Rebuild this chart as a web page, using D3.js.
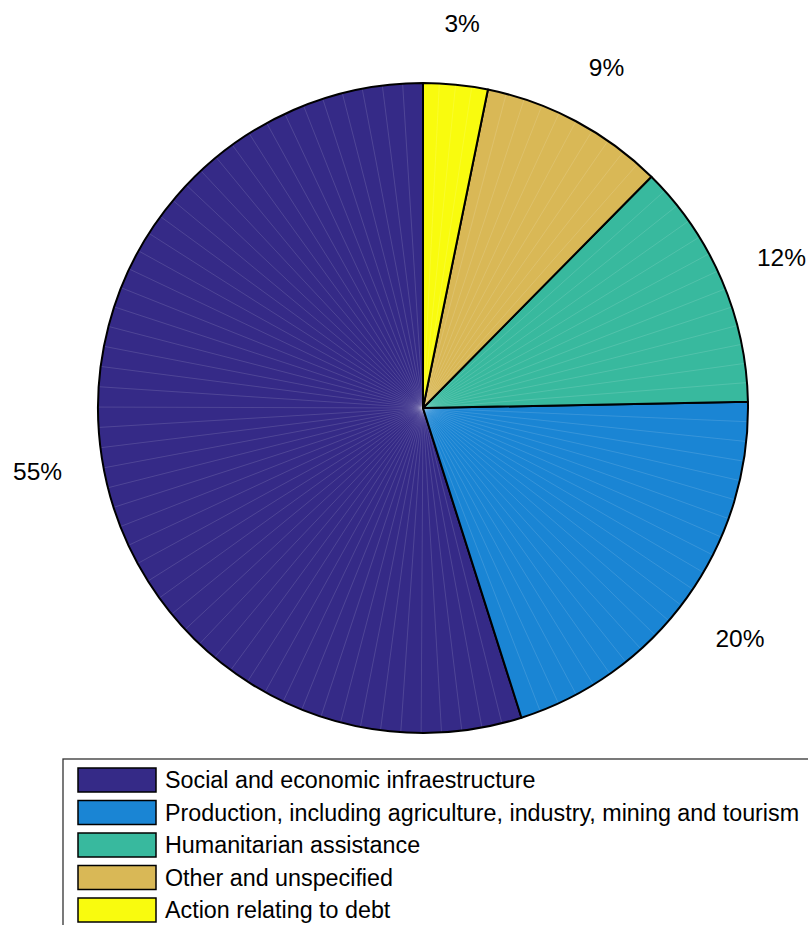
<!DOCTYPE html>
<html>
<head>
<meta charset="utf-8">
<script src="https://cdn.jsdelivr.net/npm/d3@7"></script>
<style>
  html, body { margin: 0; padding: 0; background: #fff; }
  svg { display: block; font-family: "Liberation Sans", Arial, sans-serif; }
</style>
</head>
<body>
<svg id="chart"></svg>
<script>
const categories = [
  'Social and economic infraestructure',
  'Production, including agriculture, industry, mining and tourism',
  'Humanitarian assistance',
  'Other and unspecified',
  'Action relating to debt'
]
const shares = [54.9, 20.4, 12.3, 9.2, 3.2]
const labels = ['55%', '20%', '12%', '9%', '3%']
const colors = ['#352a87', '#1a85d4', '#38b99e', '#d9b856', '#f9fb0e']

const width = 808
const height = 925
const cx = 423
const cy = 408
const radius = 325

const svg = d3.select('#chart')
  .attr('width', width)
  .attr('height', height)

// pie goes counterclockwise from 12 o'clock, like the original
const pie = d3.pie().sort(null).value(d => d).startAngle(0).endAngle(-2 * Math.PI)
const arcs = pie(shares)
const total = d3.sum(shares)

const arc = d3.arc().innerRadius(0).outerRadius(radius)

const g = svg.append('g').attr('transform', `translate(${cx},${cy})`)

const slice = g.selectAll('.slice')
  .data(arcs)
  .enter().append('g')
  .attr('class', 'slice')

slice.append('path')
  .attr('d', arc)
  .style('fill', (d, i) => colors[i])

// faint seams of the polygon fill
slice.each(function (d) {
  const n = Math.max(1, Math.ceil(100 * d.value / total))
  const a = d3.scaleLinear().domain([0, n]).range([d.startAngle, d.endAngle])
  d3.select(this).selectAll('.seam')
    .data(d3.range(1, n))
    .enter().append('line')
    .attr('class', 'seam')
    .attr('x1', 0).attr('y1', 0)
    .attr('x2', k => radius * Math.sin(a(k)))
    .attr('y2', k => -radius * Math.cos(a(k)))
    .style('stroke', '#fff')
    .style('stroke-opacity', 0.22)
    .style('stroke-width', 0.6)
})

slice.append('path')
  .attr('d', arc)
  .style('fill', 'none')
  .style('stroke', '#000')
  .style('stroke-width', 2)
  .style('stroke-linejoin', 'round')

// percentage labels at 1.2 * radius
const labelArc = d3.arc().innerRadius(radius * 1.2).outerRadius(radius * 1.2)
g.selectAll('.pct')
  .data(arcs)
  .enter().append('text')
  .attr('class', 'pct')
  .attr('transform', d => `translate(${labelArc.centroid(d)})`)
  .attr('text-anchor', 'middle')
  .attr('dy', '0.48em')
  .style('font-size', '24.5px')
  .style('fill', '#000')
  .text((d, i) => labels[i])

// legend
const legend = svg.append('g').attr('transform', 'translate(63,759)')
legend.append('rect')
  .attr('x', 0).attr('y', 0)
  .attr('width', 800).attr('height', 200)
  .style('fill', '#fff')
  .style('stroke', '#333')
  .style('stroke-width', 1.3)

const ly = d3.scaleLinear().domain([0, 1]).range([21, 53.5])
const item = legend.selectAll('.item')
  .data(categories)
  .enter().append('g')
  .attr('class', 'item')
  .attr('transform', (d, i) => `translate(0,${ly(i)})`)

item.append('rect')
  .attr('x', 15).attr('y', -12)
  .attr('width', 78).attr('height', 24)
  .style('fill', (d, i) => colors[i])
  .style('stroke', '#000')
  .style('stroke-width', 1.5)

item.append('text')
  .attr('x', 102)
  .attr('dy', '0.36em')
  .style('font-size', '23.3px')
  .text(d => d)
</script>
</body>
</html>
